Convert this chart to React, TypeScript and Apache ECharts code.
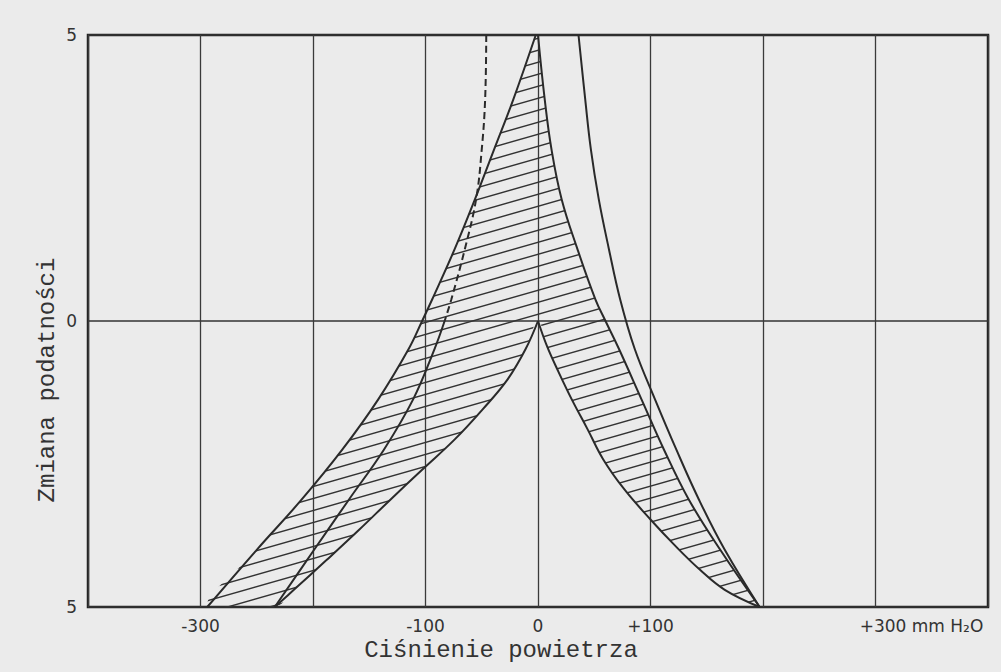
import React, { useEffect, useRef } from 'react';
import * as echarts from 'echarts';

// ---- data (pressure in mm H2O, change of compliance) ----
const xTickValues = [-300, -100, 0, 100, 300];
const xTickLabels = ['-300', '-100', '0', '+100', '+300'];
const xUnit = 'mm H₂O';
const yTickValues = [-5, 0, 5];
const yTickLabels = ['5', '0', '5'];
const xTitle = 'Ciśnienie powietrza';
const yTitle = 'Zmiana podatności';

const leftEnvelope = [[-2, 5], [-22, 3.87], [-39, 3.0], [-56, 2.13], [-74, 1.26], [-94, 0.38], [-103, 0], [-115, -0.49], [-142, -1.37], [-174, -2.25], [-210, -3.12], [-250, -4.0], [-294, -5]];
const rightEnvelope = [[0, 5], [6, 3.87], [12, 3.0], [21, 2.13], [35, 1.26], [51, 0.38], [60, 0], [72, -0.49], [92, -1.37], [112, -2.25], [134, -3.12], [162, -4.0], [197, -5]];
const outerRight = [[36, 5], [42, 3.87], [47, 3.0], [54, 2.13], [63, 1.26], [73, 0.38], [86, -0.49], [104, -1.37], [123, -2.25], [143, -3.12], [166, -4.0], [197, -5]];
const innerRight = [[0, 0], [8, -0.44], [18, -0.88], [30, -1.37], [44, -1.89], [58, -2.42], [77, -2.95], [100, -3.47], [121, -3.91], [144, -4.35], [166, -4.7], [197, -5]];
const innerLeft = [[0, 0], [-11, -0.49], [-27, -1.02], [-49, -1.54], [-74, -2.07], [-103, -2.6], [-131, -3.12], [-159, -3.65], [-188, -4.18], [-217, -4.7], [-234, -5]];
const dashedUpper = [[-46, 5], [-47, 3.87], [-50, 3.0], [-55, 2.13], [-65, 1.26], [-77, 0.38], [-83, 0]];
const dashedLower = [[-83, 0], [-92, -0.49], [-111, -1.37], [-137, -2.25], [-168, -3.12], [-199, -4.0], [-234, -5]];

// hatched region outline: left envelope down, inner-left up, inner-right down, right envelope up
const hatchOutline = [
  ...leftEnvelope,
  ...innerLeft.slice().reverse(),
  ...innerRight.slice(1),
  ...rightEnvelope.slice().reverse(),
];

const INK = '#2a2a2a';
const SMOOTH = 0.4;

const hatchSvg =
  '<svg xmlns="http://www.w3.org/2000/svg" width="42" height="12">' +
  '<g stroke="#333333" stroke-width="1.4">' +
  '<line x1="-8" y1="14.29" x2="50" y2="-2.29"/>' +
  '<line x1="-8" y1="2.29" x2="50" y2="-14.29"/>' +
  '<line x1="-8" y1="26.29" x2="50" y2="9.71"/>' +
  '</g></svg>';
const hatchUrl = 'data:image/svg+xml;charset=utf-8,' + encodeURIComponent(hatchSvg);

function lineSeries(name: string, data: number[][], dashed = false) {
  return {
    name,
    type: 'line',
    data,
    smooth: SMOOTH,
    showSymbol: false,
    symbol: 'none',
    clip: true,
    z: 3,
    lineStyle: { color: INK, width: 2, type: dashed ? [7, 4] : 'solid' },
  };
}

export default function App() {
  const ref = useRef<HTMLDivElement>(null);
  useEffect(() => {
    if (!ref.current) return;
    const chart = echarts.init(ref.current, null, { renderer: 'svg' });
    const option: any = {
      animation: false,
      backgroundColor: '#ebebeb',
      grid: { left: 88, right: 13, top: 35, bottom: 65, show: true, borderColor: '#222', borderWidth: 2.5, backgroundColor: 'transparent' },
      xAxis: {
        type: 'value',
        min: -400,
        max: 400,
        interval: 100,
        axisLine: { show: false },
        axisTick: { show: false },
        splitLine: { show: true, lineStyle: { color: '#3a3a3a', width: 1.3 } },
        axisLabel: {
          interval: 0,
          margin: 10,
          color: '#333',
          fontFamily: 'DejaVu Sans',
          fontSize: 17,
          formatter: (v: number) => {
            const i = xTickValues.indexOf(v);
            if (i < 0) return '';
            if (v === 300) return '{s|}' + xTickLabels[i] + '{u| ' + xUnit + '}';
            return xTickLabels[i];
          },
          rich: {
            s: { width: 92 },
            u: { fontSize: 17, fontFamily: 'DejaVu Sans', color: '#333' },
          },
        },
        name: xTitle,
        nameLocation: 'middle',
        nameGap: 31,
        nameTextStyle: { fontFamily: 'Liberation Mono', fontSize: 24, color: '#333', padding: [0, 74, 0, 0] },
      },
      yAxis: {
        type: 'value',
        min: -5,
        max: 5,
        interval: 5,
        axisLine: { show: false },
        axisTick: { show: false },
        splitLine: { show: true, lineStyle: { color: '#333', width: 1.5 } },
        axisLabel: {
          margin: 11,
          color: '#333',
          fontFamily: 'DejaVu Sans',
          fontSize: 17,
          formatter: (v: number) => {
            const i = yTickValues.indexOf(v);
            return i < 0 ? '' : yTickLabels[i];
          },
        },
      },
      graphic: [
        {
          type: 'text',
          x: 47,
          y: 380,
          rotation: Math.PI / 2,
          style: {
            text: yTitle,
            font: '24px "Liberation Mono"',
            fill: '#333',
            align: 'center',
            verticalAlign: 'middle',
          },
        },
      ],
      series: [
        {
          type: 'custom',
          name: 'hatch',
          z: 2,
          silent: true,
          clip: true,
          data: [[0, 0]],
          renderItem: (params: any, api: any) => {
            const pts = hatchOutline.map((p) => api.coord(p));
            return {
              type: 'polygon',
              shape: { points: pts, smooth: SMOOTH },
              style: {
                fill: { image: hatchUrl, repeat: 'repeat', imageWidth: 42, imageHeight: 12 },
                stroke: 'none',
              },
            };
          },
        },
        lineSeries('leftEnvelope', leftEnvelope),
        lineSeries('rightEnvelope', rightEnvelope),
        lineSeries('outerRight', outerRight),
        lineSeries('innerRight', innerRight),
        lineSeries('innerLeft', innerLeft),
        lineSeries('dashedUpper', dashedUpper, true),
        lineSeries('dashedLower', dashedLower),
      ],
    };
    chart.setOption(option);
    return () => chart.dispose();
  }, []);
  return (
    <div
      ref={ref}
      style={{ position: 'fixed', left: 0, top: 0, width: 1001, height: 672, background: '#ebebeb' }}
    />
  );
}
